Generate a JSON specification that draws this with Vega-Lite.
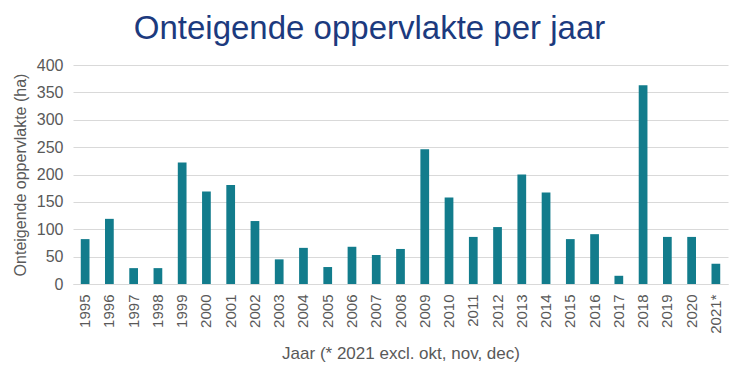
{
  "$schema": "https://vega.github.io/schema/vega-lite/v6.json",
  "width": 655,
  "height": 219,
  "autosize": {"type": "none"},
  "padding": {"left": 73, "top": 65, "right": 22, "bottom": 92},
  "background": "white",
  "title": {
    "text": "Onteigende oppervlakte per jaar",
    "font": "Liberation Sans",
    "fontSize": 33,
    "fontWeight": "normal",
    "color": "#1C3A7E",
    "anchor": "middle",
    "dx": -31,
    "offset": 11
  },
  "config": {
    "view": {"stroke": null},
    "font": "Liberation Sans"
  },
  "data": {
    "values": [
      {"jaar": "1995", "ha": 82},
      {"jaar": "1996", "ha": 119},
      {"jaar": "1997", "ha": 29},
      {"jaar": "1998", "ha": 29},
      {"jaar": "1999", "ha": 222},
      {"jaar": "2000", "ha": 169},
      {"jaar": "2001", "ha": 181},
      {"jaar": "2002", "ha": 115},
      {"jaar": "2003", "ha": 45},
      {"jaar": "2004", "ha": 66},
      {"jaar": "2005", "ha": 31},
      {"jaar": "2006", "ha": 68},
      {"jaar": "2007", "ha": 53},
      {"jaar": "2008", "ha": 64},
      {"jaar": "2009", "ha": 246},
      {"jaar": "2010", "ha": 158},
      {"jaar": "2011", "ha": 86},
      {"jaar": "2012", "ha": 104},
      {"jaar": "2013", "ha": 200},
      {"jaar": "2014", "ha": 167},
      {"jaar": "2015", "ha": 82},
      {"jaar": "2016", "ha": 91},
      {"jaar": "2017", "ha": 15},
      {"jaar": "2018", "ha": 363},
      {"jaar": "2019", "ha": 86},
      {"jaar": "2020", "ha": 86},
      {"jaar": "2021*", "ha": 37}
    ]
  },
  "mark": {"type": "bar", "color": "#127C8C"},
  "encoding": {
    "x": {
      "field": "jaar",
      "type": "nominal",
      "sort": null,
      "scale": {"paddingInner": 0.64, "paddingOuter": 0.32},
      "axis": {
        "title": "Jaar (* 2021 excl. okt, nov, dec)",
        "titleFont": "Liberation Sans",
        "titleFontSize": 17,
        "titleFontWeight": "normal",
        "titleColor": "#595959",
        "titlePadding": 12,
        "labelAngle": -90,
        "labelFontSize": 15,
        "labelColor": "#595959",
        "labelPadding": 10,
        "ticks": false,
        "domainColor": "#d9d9d9",
        "domainWidth": 1
      }
    },
    "y": {
      "field": "ha",
      "type": "quantitative",
      "scale": {"domain": [0, 400]},
      "axis": {
        "title": "Onteigende oppervlakte (ha)",
        "titleFont": "Liberation Sans",
        "titleFontSize": 16,
        "titleFontWeight": "normal",
        "titleColor": "#595959",
        "titlePadding": 8,
        "values": [0, 50, 100, 150, 200, 250, 300, 350, 400],
        "labelFontSize": 16,
        "labelColor": "#595959",
        "labelPadding": 10,
        "ticks": false,
        "domain": false,
        "gridColor": "#d9d9d9",
        "gridWidth": 1
      }
    }
  }
}
